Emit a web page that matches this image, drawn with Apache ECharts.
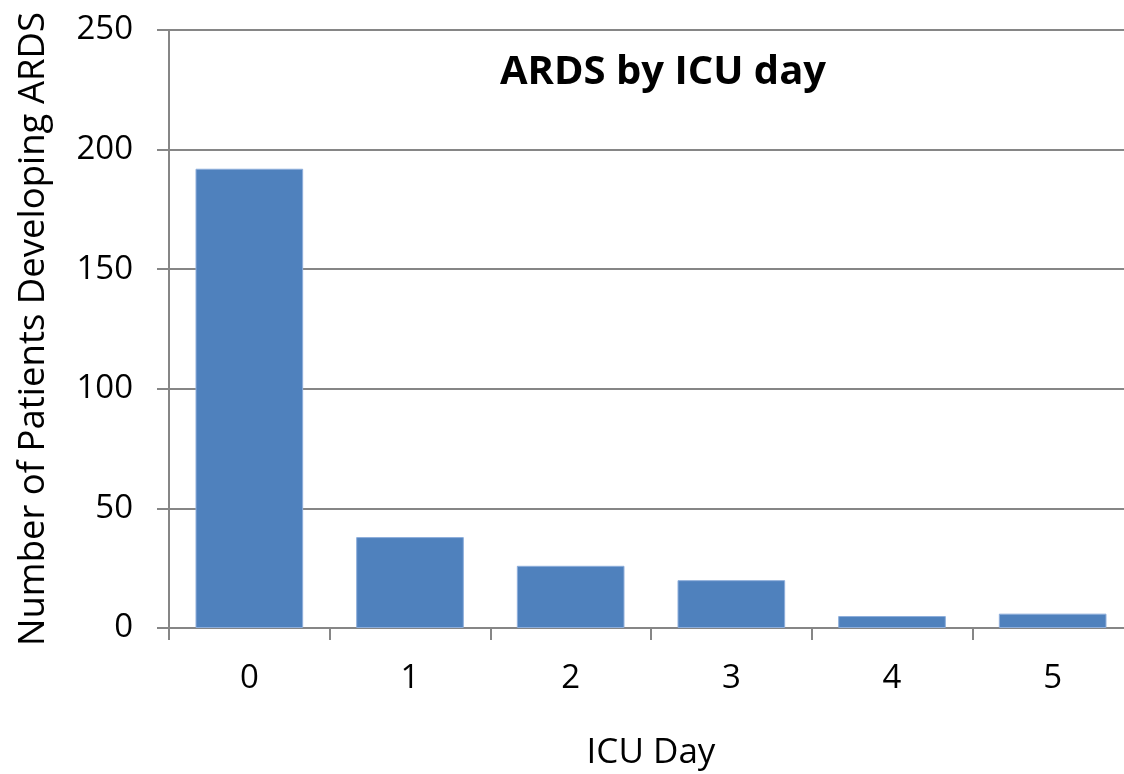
<!DOCTYPE html>
<html>
<head>
<meta charset="utf-8">
<script src="https://cdn.jsdelivr.net/npm/echarts@6/dist/echarts.min.js"></script>
<style>
  html, body { margin: 0; padding: 0; background: #fff; }
  #chart { width: 1124px; height: 774px; }
</style>
</head>
<body>
<div id="chart"></div>
<script>
  var days = ['0', '1', '2', '3', '4', '5'];
  var patients = [192, 38, 26, 20, 5, 6];
  var yTicks = [0, 50, 100, 150, 200, 250];

  var chart = echarts.init(document.getElementById('chart'));
  var font = 'Open Sans';

  var option = {
    animation: false,
    title: {
      text: 'ARDS by ICU day',
      left: 495,
      top: 48,
      textStyle: { fontFamily: font, fontSize: 40, fontWeight: 'bold', color: '#000' }
    },
    grid: { left: 169, top: 30, width: 964, height: 598, outerBoundsMode: 'none', containLabel: false },
    xAxis: {
      type: 'category',
      data: days,
      name: 'ICU Day',
      nameLocation: 'middle',
      nameGap: 108,
      nameTextStyle: { fontFamily: font, fontSize: 35, color: '#000' },
      axisLine: { lineStyle: { color: '#868686', width: 2 } },
      axisTick: { show: true, length: 12, lineStyle: { color: '#868686', width: 2 } },
      axisLabel: { margin: 34, fontFamily: font, fontSize: 33, color: '#000' }
    },
    yAxis: {
      type: 'value',
      min: yTicks[0],
      max: yTicks[yTicks.length - 1],
      interval: 50,
      name: 'Number of Patients Developing ARDS',
      nameLocation: 'middle',
      nameGap: 117,
      nameTextStyle: { fontFamily: font, fontSize: 36.5, color: '#000' },
      axisLine: { show: true, lineStyle: { color: '#868686', width: 2 } },
      axisTick: { show: true, length: 12, lineStyle: { color: '#868686', width: 2 } },
      splitLine: { lineStyle: { color: '#868686', width: 2 } },
      axisLabel: { margin: 36, fontFamily: font, fontSize: 33, color: '#000' }
    },
    series: [{
      type: 'bar',
      data: patients,
      barCategoryGap: '33%',
      itemStyle: { color: '#4F81BD', borderColor: '#8eaedb', borderWidth: 1 }
    }]
  };
  chart.setOption(option);
</script>
</body>
</html>
